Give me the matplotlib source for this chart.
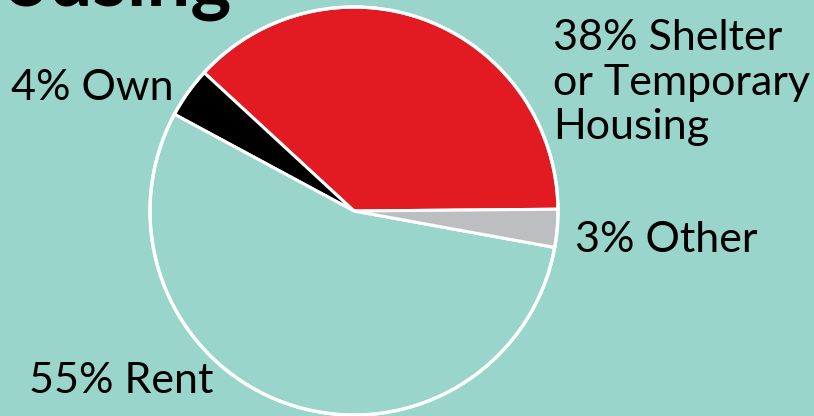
import matplotlib
matplotlib.use("Agg")
import matplotlib.pyplot as plt

categories = ["Shelter or Temporary Housing", "Own", "Rent", "Other"]
values = [38, 4, 55, 3]
colors = ["#E21B23", "#000000", "#99D5CB", "#BDBEC0"]
shelter_lines = ["38% Shelter", "or Temporary", "Housing"]
labels = ["4% Own", "55% Rent", "3% Other"]
title = "Housing"

BG = "#99D5CB"
W, H = 814, 416
fig = plt.figure(figsize=(W / 100, H / 100), dpi=100, facecolor=BG)
ax = fig.add_axes([0, 0, 1, 1])
ax.set_facecolor(BG)

cx, cy, r = 354, H - 211, 204
ax.pie(values, colors=colors, startangle=0.5, counterclock=True,
       center=(cx, cy), radius=r, frame=True,
       wedgeprops=dict(edgecolor="white", linewidth=2.2))
ax.set_xlim(0, W)
ax.set_ylim(0, H)
ax.set_aspect("equal")
ax.axis("off")
circle = plt.Circle((cx, cy), r, fill=False, edgecolor="white", linewidth=2.4)
ax.add_patch(circle)

fam = ["Lato", "DejaVu Sans"]
fs = 31
wt = "normal"
for line, yb in zip(shelter_lines, [50, 95, 139]):
    ax.text(553, H - yb, line, fontsize=fs, family=fam, fontweight=wt,
            ha="left", va="baseline", color="black")
ax.text(11, H - 100, labels[0], fontsize=fs, family=fam, fontweight=wt,
        ha="left", va="baseline")
ax.text(29, H - 393, labels[1], fontsize=fs, family=fam, fontweight=wt,
        ha="left", va="baseline")
ax.text(575, H - 252, labels[2], fontsize=fs, family=fam, fontweight=wt,
        ha="left", va="baseline")

ax.text(232, H + 52, title, fontsize=56, family=fam, fontweight="bold",
        ha="right", va="top", color="black")

fig.savefig("out.png", dpi=100, facecolor=BG)
